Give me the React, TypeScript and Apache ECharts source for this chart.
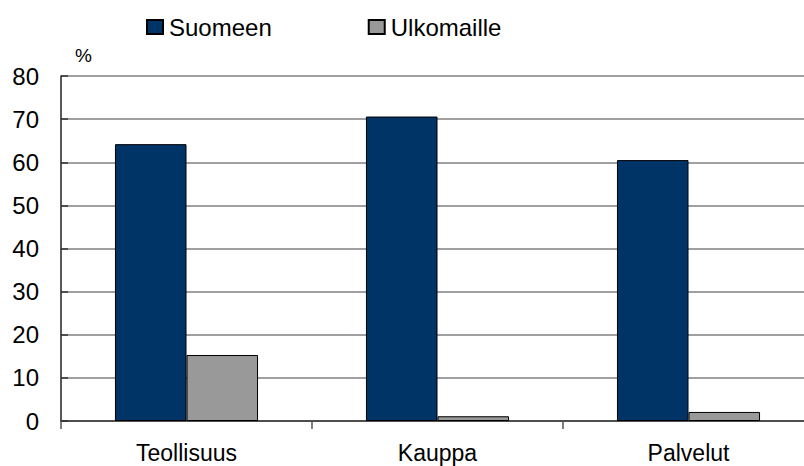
import React, { useEffect, useRef } from "react";
import * as echarts from "echarts";

const categories = ["Teollisuus", "Kauppa", "Palvelut"];
const seriesNames = ["Suomeen", "Ulkomaille"];
const suomeen = [64.2, 70.6, 60.5];
const ulkomaille = [15.3, 1.1, 2.1];
const yMin = 0;
const yMax = 80;
const yInterval = 10;

const FONT = "'Liberation Sans', Arial, sans-serif";

export default function App() {
  const ref = useRef<HTMLDivElement>(null);
  useEffect(() => {
    if (!ref.current) return;
    const chart = echarts.init(ref.current, undefined, { renderer: "svg" });
    chart.setOption({
      animation: false,
      backgroundColor: "#ffffff",
      textStyle: { fontFamily: FONT, color: "#000" },
      legend: {
        left: 146,
        top: 15,
        padding: 0,
        itemGap: 96,
        itemWidth: 16,
        itemHeight: 14,
        icon: "rect",
        textStyle: { fontSize: 24, color: "#000", fontFamily: FONT, padding: [0, 0, 0, 1] },
        data: seriesNames,
      },
      grid: {
        left: 61,
        width: 753,
        top: 76,
        bottom: 45,
        containLabel: false,
        outerBoundsMode: "none",
      },
      xAxis: {
        type: "category",
        data: categories,
        axisLine: { lineStyle: { color: "#333", width: 1.5 } },
        axisTick: { show: true, length: 8, lineStyle: { color: "#555", width: 1.5 } },
        axisLabel: { fontSize: 23, color: "#000", margin: 20, fontFamily: FONT },
      },
      yAxis: {
        type: "value",
        min: yMin,
        max: yMax,
        interval: yInterval,
        axisLine: { show: true, lineStyle: { color: "#222", width: 1.5 } },
        axisTick: { show: true, inside: true, length: 7, lineStyle: { color: "#333", width: 1.5 } },
        axisLabel: { fontSize: 24, color: "#000", margin: 22, fontFamily: FONT },
        splitLine: { lineStyle: { color: "#808080", width: 1.5 } },
      },
      graphic: [
        {
          type: "text",
          left: 75,
          top: 46,
          style: { text: "%", fontSize: 19, fill: "#000", fontFamily: FONT },
        },
      ],
      series: [
        {
          name: seriesNames[0],
          type: "bar",
          data: suomeen,
          barGap: "0%",
          barCategoryGap: "43%",
          itemStyle: { color: "#003366", borderColor: "#000", borderWidth: 1 },
        },
        {
          name: seriesNames[1],
          type: "bar",
          data: ulkomaille,
          itemStyle: { color: "#999999", borderColor: "#000", borderWidth: 1 },
        },
      ],
    });
    return () => chart.dispose();
  }, []);
  return <div ref={ref} style={{ width: 804, height: 466, position: "absolute", left: 0, top: 0 }} />;
}
